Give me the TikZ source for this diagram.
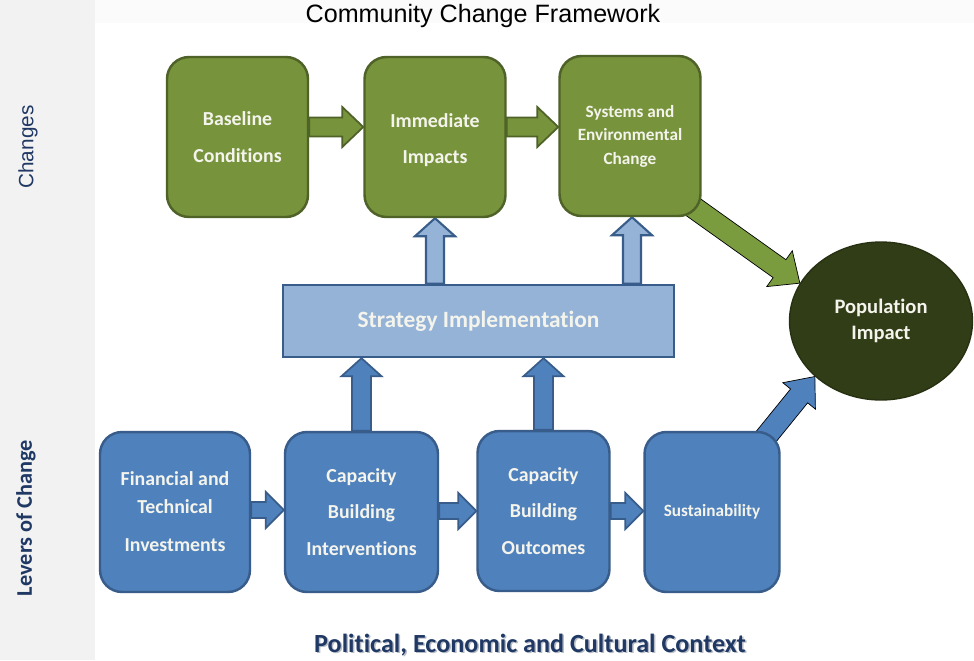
\documentclass[tikz,border=0pt]{standalone}
\usepackage{fontspec}
\setmainfont{Carlito}[Ligatures={NoCommon}]
\newfontfamily\titlefont{Liberation Sans}
\usetikzlibrary{calc,shapes.geometric}
\definecolor{grn}{HTML}{77933C}
\definecolor{grnline}{HTML}{4F6228}
\definecolor{grnarrow}{HTML}{7A9C3F}
\definecolor{ltblue}{HTML}{95B3D7}
\definecolor{blu}{HTML}{4F81BD}
\definecolor{bluline}{HTML}{385D8A}
\definecolor{darkolive}{HTML}{313D17}
\definecolor{navy}{HTML}{1F3864}
\definecolor{sidegray}{HTML}{F2F2F2}
\definecolor{topgray}{HTML}{FBFBFB}
\definecolor{boxtext}{HTML}{F4F4EC}
\pgfdeclarelayer{bg}
\pgfdeclarelayer{arr}
\pgfsetlayers{bg,arr,main}
% #1 style, #2 from, #3 to, #4 half shaft, #5 half head, #6 head length
\newcommand\fatarrow[6]{%
  \coordinate (fa-s) at (#2);
  \coordinate (fa-e) at (#3);
  \coordinate (fa-h) at ($(fa-e)!#6!(fa-s)$);
  \filldraw[#1] ($(fa-s)!#4!90:(fa-e)$) -- ($(fa-h)!#4!-90:(fa-s)$) -- ($(fa-h)!#5!-90:(fa-s)$) -- (fa-e) -- ($(fa-h)!#5!90:(fa-s)$) -- ($(fa-h)!#4!90:(fa-s)$) -- ($(fa-s)!#4!-90:(fa-e)$) -- cycle;
}
\tikzset{
  greenbox/.style={draw=grnline, fill=grn, line width=1.4pt, rounded corners=0.44cm,
    minimum width=2.82cm, minimum height=3.2cm, align=center, text=boxtext,
    font=\bfseries\fontsize{11.3}{21}\selectfont, inner sep=0pt},
  bluebox/.style={draw=bluline, fill=blu, line width=1.4pt, rounded corners=0.44cm,
    minimum height=3.2cm, align=center, text=boxtext,
    font=\bfseries\fontsize{11.3}{21}\selectfont, inner sep=0pt},
  stratbox/.style={draw=bluline, fill=ltblue, line width=1.4pt,
    minimum width=7.82cm, minimum height=1.44cm, align=center, text=boxtext,
    font=\bfseries\fontsize{13.3}{16}\selectfont},
  popnode/.style={ellipse, draw=darkolive!80!black, fill=darkolive, line width=0.8pt,
    minimum width=3.66cm, minimum height=3.16cm, align=center, text=boxtext,
    font=\bfseries\fontsize{11.7}{14.8}\selectfont, inner sep=0pt},
  greenarrow/.style={draw=grnline, fill=grn, line width=1pt},
  ltarrow/.style={draw=bluline, fill=ltblue, line width=1.2pt},
  bluarrow/.style={draw=bluline, fill=blu, line width=1pt},
  diaggreen/.style={fill=grnarrow},
  diagblue/.style={fill=blu},
  sidelabel/.style={text=navy, rotate=90},
}
\begin{document}
\begin{tikzpicture}[x=0.02cm,y=-0.02cm]
\useasboundingbox (0,0) rectangle (974,660);
\begin{pgfonlayer}{bg}
  \fill[topgray] (0,0) rectangle (974,660);
  \fill[sidegray] (0,0) rectangle (95,660);
  \fill[white] (95,23) rectangle (974,660);
\end{pgfonlayer}

% titles
\node (title) at (483,16) {\titlefont\fontsize{14.3}{16}\selectfont Community Change Framework};
\node[sidelabel, font=\titlefont\fontsize{11.8}{14}\selectfont] (lchg) at (28,147) {Changes};
\node[sidelabel, font=\bfseries\fontsize{12.7}{14}\selectfont] (llev) at (26,518) {Levers of Change};
\node[text=navy!60!black!30, font=\bfseries\fontsize{14.9}{17}\selectfont] at (531.5,646.5) {Political, Economic and Cultural Context};
\node[text=navy, font=\bfseries\fontsize{14.9}{17}\selectfont] (ctx) at (530,645) {Political, Economic and Cultural Context};

% top row
\node[greenbox] (base) at (237.5,137) {Baseline\\Conditions};
\node[greenbox] (imm) at (435,137) {\\[-9.6pt]Immediate\\Impacts};
\node[greenbox, font=\bfseries\fontsize{9.8}{13.4}\selectfont] (sys) at (630,136) {Systems and\\Environmental\\Change};

% strategy
\node[stratbox] (strat) at (478.5,321) {Strategy Implementation};

% bottom row
\node[bluebox, minimum width=3.0cm] (fin) at (175,512) {Financial and\\[-5pt]Technical\\[0.6pt]Investments};
\node[bluebox, minimum width=3.06cm] (cbi) at (361.5,512) {Capacity\\Building\\Interventions};
\node[bluebox, minimum width=2.64cm] (cbo) at (543.5,511) {Capacity\\Building\\Outcomes};
\node[bluebox, minimum width=2.7cm, font=\bfseries\fontsize{9.8}{13}\selectfont] (sus) at (712,512) {Sustainability};

% population
\node[popnode] (pop) at (881,321) {Population\\Impact};

% arrows
\begin{pgfonlayer}{arr}
  \fatarrow{greenarrow}{$(base.east)+(0,-10)$}{$(imm.west)+(0,-10)$}{0.19cm}{0.4cm}{0.42cm}
  \fatarrow{greenarrow}{$(imm.east)+(0,-10)$}{$(sys.west)+(0,-9)$}{0.19cm}{0.4cm}{0.42cm}
  \fatarrow{ltarrow}{imm.south |- strat.north}{imm.south}{0.18cm}{0.4cm}{0.36cm}
  \fatarrow{ltarrow}{$(sys.south |- strat.north)+(2,0)$}{$(sys.south)+(2,0)$}{0.18cm}{0.4cm}{0.36cm}
  \fatarrow{bluarrow}{cbi.north}{cbi.north |- strat.south}{0.19cm}{0.4cm}{0.36cm}
  \fatarrow{bluarrow}{cbo.north}{cbo.north |- strat.south}{0.19cm}{0.4cm}{0.36cm}
  \fatarrow{bluarrow}{$(fin.east)+(0,-2)$}{$(cbi.west)+(0,-2)$}{0.16cm}{0.36cm}{0.36cm}
  \fatarrow{bluarrow}{$(cbi.east)+(0,-1)$}{$(cbo.west)+(0,0)$}{0.16cm}{0.36cm}{0.36cm}
  \fatarrow{bluarrow}{cbo.east}{$(sus.west)+(0,-1)$}{0.16cm}{0.36cm}{0.36cm}
  \fatarrow{diaggreen}{$(sys.south east)+(-14,-14)$}{pop.155}{0.22cm}{0.44cm}{0.5cm}
  \fatarrow{diagblue}{$(sus.north east)+(-18,10)$}{pop.220}{0.22cm}{0.42cm}{0.5cm}
\end{pgfonlayer}
\end{tikzpicture}
\end{document}
